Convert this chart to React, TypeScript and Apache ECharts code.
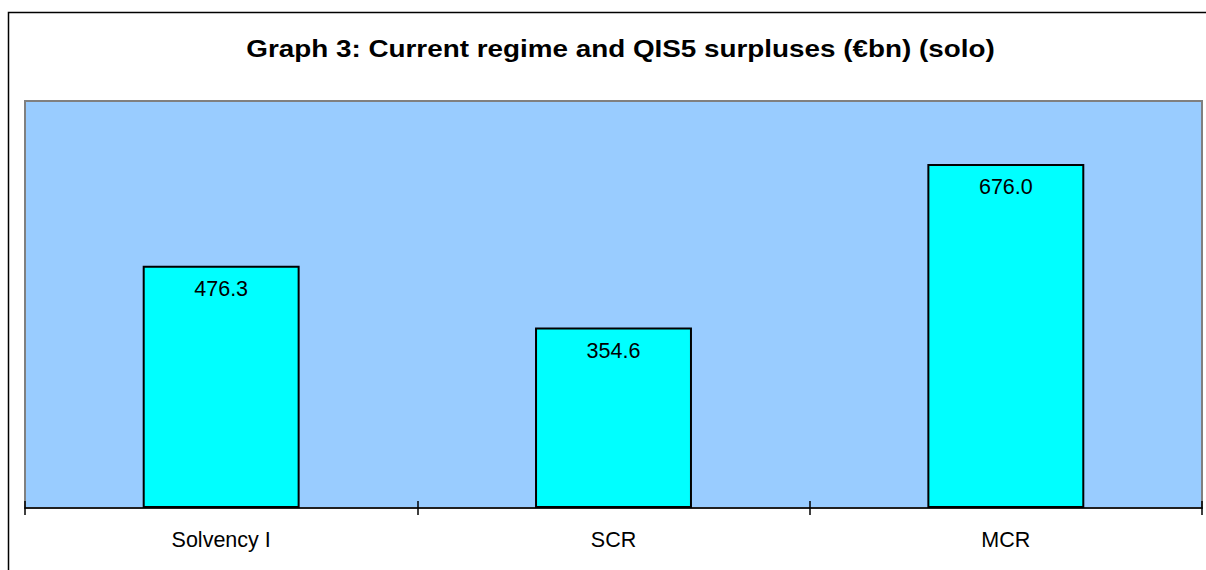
import React, { useEffect, useRef } from "react";
import * as echarts from "echarts";

const categories = ["Solvency I", "SCR", "MCR"];
const surpluses = [476.3, 354.6, 676.0];
const titleText = "Graph 3: Current regime and QIS5 surpluses (€bn) (solo)";

const FONT = "'Liberation Sans', Arial, Helvetica, sans-serif";

export default function App() {
  const ref = useRef<HTMLDivElement>(null);
  useEffect(() => {
    if (!ref.current) return;
    const chart = echarts.init(ref.current, null, { renderer: "svg" });
    chart.setOption({
      animation: false,
      backgroundColor: "#ffffff",
      graphic: [
        {
          type: "rect",
          z: -10,
          silent: true,
          shape: { x: 8.5, y: 12.5, width: 1260, height: 640 },
          style: { fill: "#ffffff", stroke: "#000000", lineWidth: 1.5 },
        },
        {
          type: "text",
          x: 620.5,
          y: 49,
          scaleX: 1.16,
          style: {
            text: titleText,
            fontFamily: FONT,
            fontWeight: "bold",
            fontSize: 24,
            fill: "#000000",
            align: "center",
            verticalAlign: "middle",
          },
        },
      ],
      grid: {
        left: 25,
        right: 4,
        top: 101,
        bottom: 62,
        show: true,
        backgroundColor: "#99CCFF",
        borderColor: "#808080",
        borderWidth: 2,
      },
      xAxis: [
        {
          type: "category",
          data: categories,
          position: "bottom",
          axisLine: { show: true, lineStyle: { color: "#000000", width: 1.5 } },
          axisTick: { show: true, inside: false, length: 7, alignWithLabel: false, lineStyle: { color: "#000000", width: 1.5 } },
          axisLabel: { color: "#000000", fontSize: 21.5, fontFamily: FONT, margin: 21 },
          splitLine: { show: false },
        },
        {
          type: "category",
          data: categories,
          position: "bottom",
          axisLine: { show: false },
          axisTick: { show: true, inside: true, length: 7, lineStyle: { color: "#000000", width: 1.5 } },
          axisLabel: { show: false },
          splitLine: { show: false },
        },
      ],
      yAxis: {
        type: "value",
        min: 0,
        max: 800,
        show: false,
        splitLine: { show: false },
      },
      series: [
        {
          type: "bar",
          xAxisIndex: 0,
          data: surpluses,
          barWidth: "40%",
          itemStyle: { color: "#00FFFF", borderColor: "#000000", borderWidth: 2 },
          label: {
            show: true,
            position: "insideTop",
            distance: 12,
            color: "#000000",
            fontSize: 21.5,
            fontFamily: FONT,
            formatter: (p: any) => Number(p.value).toFixed(1),
          },
        },
      ],
    });
    return () => chart.dispose();
  }, []);
  return (
    <div
      ref={ref}
      style={{ position: "absolute", left: 0, top: 0, width: 1206, height: 570, overflow: "hidden" }}
    />
  );
}
